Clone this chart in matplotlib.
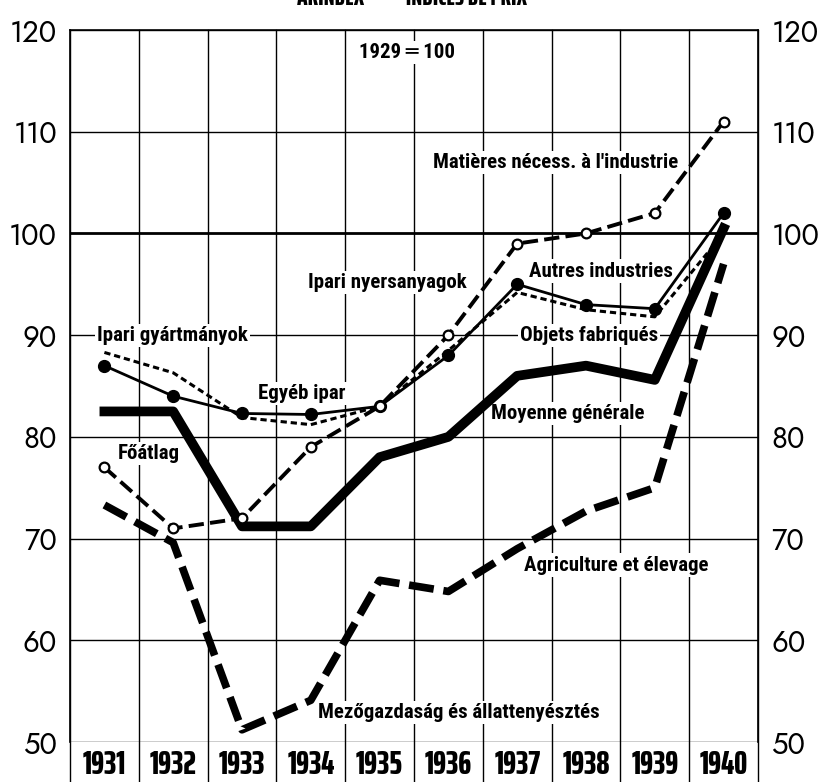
import matplotlib
matplotlib.use("Agg")
import logging
import matplotlib.pyplot as plt

logging.getLogger("matplotlib.font_manager").setLevel(logging.ERROR)
plt.rcParams["lines.scale_dashes"] = False

years = [1931, 1932, 1933, 1934, 1935, 1936, 1937, 1938, 1939, 1940]
year_labels = [str(y) for y in years]
y_ticks = [50, 60, 70, 80, 90, 100, 110, 120]

# price indices, 1929 = 100
matieres = [77, 71, 72, 79, 83, 90, 99, 100, 102, 111]
autres = [87, 84, 82.3, 82.2, 83, 88, 95, 93, 92.6, 102]
objets = [88.3, 86.3, 81.9, 81.2, 83, 88.5, 94.2, 92.5, 91.8, 100]
moyenne = [82.5, 82.5, 71.2, 71.2, 78, 80, 86, 87, 85.6, 100.5]
agriculture = [73.3, 69.6, 51.2, 54.1, 65.9, 64.8, 69, 72.7, 75, 97]

cond = ["Roboto Condensed", "Archivo Narrow", "Saira Condensed", "DejaVu Sans"]
heavy = ["Saira ExtraCondensed", "Oswald", "DejaVu Sans"]
num_font = ["Jost", "Poppins", "Lato", "DejaVu Sans"]

fig = plt.figure(figsize=(8.25, 7.82), dpi=100)
ax = fig.add_axes([70 / 825, 1 - 742 / 782, 688 / 825, 712 / 782])
ax.set_xlim(1930.5, 1940.5)
ax.set_ylim(50, 120)

# grid
for v in y_ticks:
    ax.axhline(v, color="black", lw=2.0 if v == 100 else 1.0, zorder=1)
for k in range(11):
    ax.plot([1930.5 + k, 1930.5 + k], [120, 45.5], color="black", lw=1.0,
            clip_on=False, zorder=1)
for s in ax.spines.values():
    s.set_linewidth(1.2)
ax.spines["bottom"].set_visible(False)

# series
ax.plot(years, agriculture, color="black", lw=5.5, dashes=(18, 7), zorder=4)
ax.plot(years, moyenne, color="black", lw=7.0, zorder=4)
ax.plot(years, objets, color="black", lw=2.2, dashes=(4.5, 2.8), zorder=5)
ax.plot(years, autres, color="black", lw=2.0, marker="o", ms=8.5,
        mfc="black", mec="black", zorder=6)
ax.plot(years, matieres, color="black", lw=2.8, dashes=(11, 4.5), marker="o",
        ms=7, mfc="white", mec="black", mew=1.6, zorder=6)

# labels
bg = dict(facecolor="white", edgecolor="none", pad=1.5)
lab = dict(family=cond, fontsize=15, fontweight="bold", color="black",
           va="center", ha="left", zorder=3, bbox=bg)
ax.text(1930.89, 90, "Ipari gyártmányok", **lab)
ax.text(1931.2, 78.4, "Főátlag", **lab)
ax.text(1933.23, 84.3, "Egyéb ipar", **lab)
ax.text(1933.96, 95.2, "Ipari nyersanyagok", **lab)
ax.text(1935.78, 107, "Matières nécess. à l'industrie", **lab)
ax.text(1937.17, 96.3, "Autres industries", **lab)
ax.text(1937.04, 90, "Objets fabriqués", **lab)
ax.text(1936.62, 82.3, "Moyenne générale", **lab)
ax.text(1937.1, 67.4, "Agriculture et élevage", **lab)
ax.text(1934.1, 52.9, "Mezőgazdaság és állattenyésztés", **lab)
ax.text(1934.7, 117.8, "1929 ═ 100", **lab)

# axes ticks
ax.set_yticks(y_ticks)
ax.set_yticklabels([str(v) for v in y_ticks], family=num_font, fontsize=21,
                   fontweight="light")
ax.tick_params(axis="y", left=False, right=False, labelleft=True,
               labelright=True, pad=6)
ax.set_xticks(years)
ax.set_xticklabels(year_labels, family=heavy, fontsize=24, fontweight=800)
ax.tick_params(axis="x", bottom=False, pad=2)

fig.text(0.5, 1 - 5 / 782, "ÁRINDEX   —   INDICES DE PRIX", family=heavy,
         fontsize=18, fontweight=800, ha="center", va="baseline")

fig.savefig("out.png", dpi=100)
